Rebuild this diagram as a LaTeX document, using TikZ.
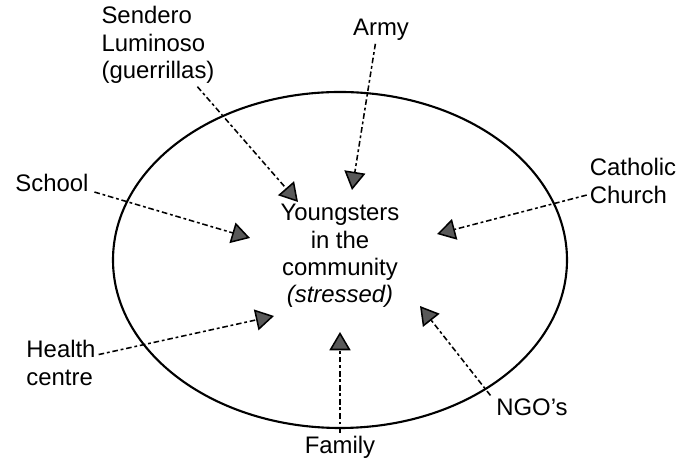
\documentclass[tikz,border=0pt]{standalone}
\usepackage{fontspec}
\setmainfont{Liberation Sans}
\usetikzlibrary{positioning,arrows.meta,shapes.geometric,calc}

\begin{document}
\begin{tikzpicture}[x=0.025cm, y=-0.025cm,
      every node/.style={font=\fontsize{17}{19.5}\selectfont, inner sep=2pt},
      label/.style={align=left},
      ring/.style={draw, line width=1.5pt},
      arr/.style={-{Triangle[length=13pt, width=15pt, fill=black!65]},
                  dash pattern=on 4pt off 2pt on 2pt off 2pt, line width=1.1pt}
  ]
    \useasboundingbox (0,0) rectangle (680,464);
    % community
    \node[ellipse, ring, minimum width=454*0.025cm, minimum height=336*0.025cm] (ring) at (340,260) {};
    \node[align=center] (youth) at (340,256) {Youngsters\\in the\\community\\\textit{(stressed)}};
    % outside actors
    \node[label] (sendero) at (158,45) {Sendero\\Luminoso\\(guerrillas)};
    \node (army) at (381,30) {Army};
    \node (school) at (52,183) {School};
    \node[label] (catholic) at (633,181) {Catholic\\Church};
    \node[label] (health) at (61,363) {Health\\centre};
    \node (family) at (340,447) {Family};
    \node (ngo) at (532,407) {NGO{\char"0027}s};
    % where the arrows land
    \coordinate (hSendero) at (298,202);
    \coordinate (hArmy) at (352,190);
    \coordinate (hSchool) at (250,238);
    \coordinate (hCatholic) at (437,234);
    \coordinate (hHealth) at (274,316);
    \coordinate (hFamily) at (340,332);
    \coordinate (hNgo) at (420,306);
    \draw[arr] ([xshift=28pt]sendero.south) -- (hSendero);
    \draw[arr] ([xshift=-4pt]army.south) -- (hArmy);
    \draw[arr] ([xshift=2pt,yshift=2pt]school.south east) -- (hSchool);
    \draw[arr] ([yshift=-10pt]catholic.west) -- (hCatholic);
    \draw[arr] ([yshift=6pt]health.east) -- (hHealth);
    \draw[arr] (family.north) -- (hFamily);
    \draw[arr] ([xshift=-2pt]ngo.north west) -- (hNgo);
  \end{tikzpicture}
\end{document}
